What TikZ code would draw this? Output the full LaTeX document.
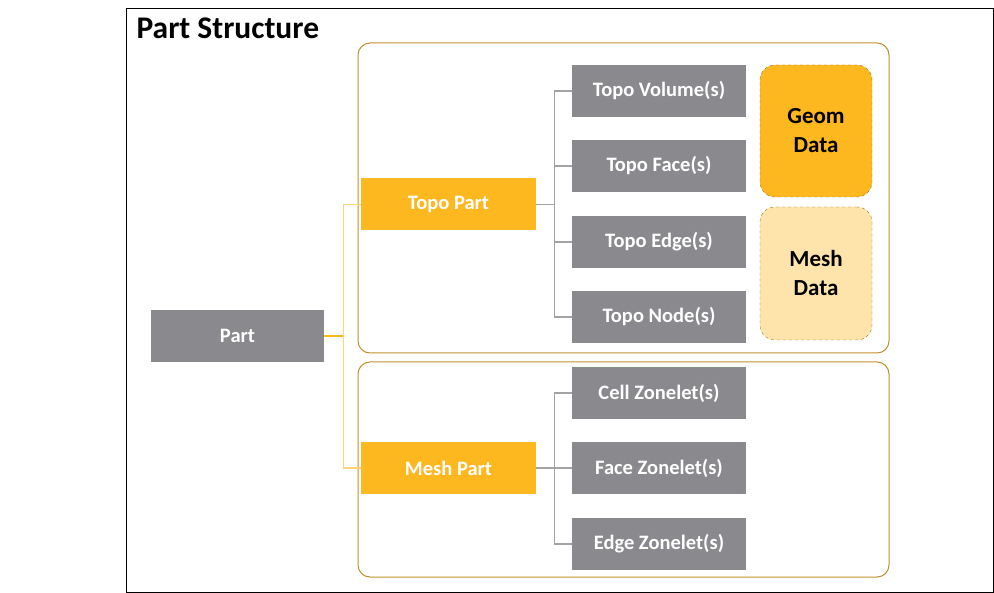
\documentclass[tikz,border=0pt]{standalone}
\usepackage{fontspec}
\setmainfont{Carlito}
\usetikzlibrary{positioning}

\definecolor{boxgray}{HTML}{8A8A8E}
\definecolor{partorange}{HTML}{FDB71F}
\definecolor{lightorange}{HTML}{FEE4AA}
\definecolor{frameorange}{HTML}{C09030}
\definecolor{linkgray}{HTML}{A3A3A3}

\begin{document}
\begin{tikzpicture}[x=1pt, y=-1pt,
    graybox/.style={fill=boxgray, text=white, font=\fontsize{20.5}{22}\selectfont\bfseries,
        minimum width=174pt, minimum height=52pt, inner sep=0pt},
    orangebox/.style={graybox, fill=partorange},
    databox/.style={draw=frameorange!80!black, dashed, rounded corners=15pt, text=black,
        font=\fontsize{23}{29}\selectfont\bfseries, align=center,
        minimum width=112pt, minimum height=133pt, inner sep=0pt},
    link/.style={linkgray, line width=1.3pt}]
    \useasboundingbox (0,0) rectangle (994,593);
    \draw[line width=1pt] (126,9) rectangle (993,592);
    \node[anchor=base west, font=\fontsize{31.5}{33}\selectfont\bfseries] (title) at (133,39) {Part Structure};
    % frames
    \draw[frameorange, line width=1pt, rounded corners=12pt] (358,43) rectangle (889,353);
    \draw[frameorange, line width=1pt, rounded corners=12pt] (358,362) rectangle (889,577);
    % nodes
    \node[graybox, minimum width=173pt] (part) at (237.5,336) {Part};
    \node[orangebox, minimum width=175pt] (topo) at (448.5,204.5) {Topo Part};
    \node[orangebox, minimum width=175pt] (mesh) at (448.5,468) {Mesh Part};
    \node[graybox] (tvol) at (659,91) {Topo Volume(s)};
    \node[graybox] (tface) at (659,166) {Topo Face(s)};
    \node[graybox] (tedge) at (659,242) {Topo Edge(s)};
    \node[graybox] (tnode) at (659,317) {Topo Node(s)};
    \node[graybox] (cellz) at (659,393) {Cell Zonelet(s)};
    \node[graybox] (facez) at (659,468) {Face Zonelet(s)};
    \node[graybox] (edgez) at (659,544) {Edge Zonelet(s)};
    \node[databox, fill=partorange, minimum height=132pt] (geom) at (816,131) {Geom\\Data};
    \node[databox, fill=lightorange] (meshdata) at (816,273.5) {Mesh\\Data};
    % links
    \draw[partorange!60, line width=1.3pt] (part.east) -- ++(19,0) |- (topo.west);
    \draw[partorange!60, line width=1.3pt] (part.east) -- ++(19,0) |- (mesh.west);
    \draw[partorange, line width=1.3pt] (part.east) -- ++(19,0);
    \foreach \t in {tvol,tface,tedge,tnode}
        \draw[link] (topo.east) -- ++(18,0) |- (\t.west);
    \foreach \t in {cellz,facez,edgez}
        \draw[link] (mesh.east) -- ++(18,0) |- (\t.west);
\end{tikzpicture}
\end{document}
